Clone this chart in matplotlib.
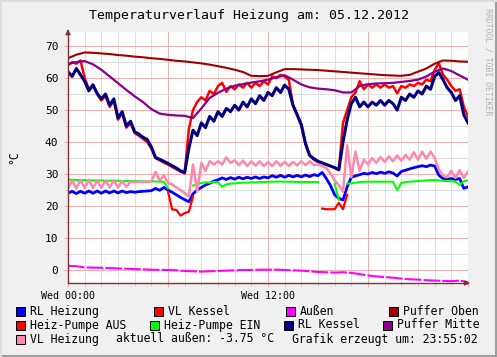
## RRDtool-style heating log: temperatures of one day, redrawn with matplotlib
import numpy as np
import matplotlib
matplotlib.use("Agg")
import matplotlib.pyplot as plt
from matplotlib.lines import Line2D
from matplotlib.patches import Rectangle

plt.rcParams['font.family'] = ['DejaVu Sans Mono']

# time axes (hours since Wed 00:00)
hours_q = np.arange(97) * 0.25   # quarter-hour samples
hours_h = np.arange(49) * 0.5    # half-hour samples

# values (degrees C), one row = one hour
rl_heizung = [
    24.0, 24.6, 23.9, 24.6,  24.0, 24.7, 24.0, 24.7,  24.0, 24.7, 24.1, 24.7,
    24.1, 24.7, 24.2, 24.5,  24.3, 24.5, 24.6, 24.7,  24.8, 25.5, 24.9, 25.8,
    25.0, 24.3, 23.5, 22.7,  22.0, 21.3, 23.8, 25.0,  25.8, 26.6, 27.1, 27.8,
    28.2, 28.8, 28.3, 28.9,  28.4, 29.0, 28.5, 29.0,  28.6, 29.1, 28.6, 29.1,
    28.8, 29.5, 29.0, 29.6,  29.0, 29.6, 29.1, 29.6,  29.1, 29.7, 29.2, 29.8,
    29.5, 30.5, 28.6, 26.4,  23.5, 22.4, 21.9, 26.0,  29.0, 29.4, 29.8, 30.2,
    30.0, 30.5, 30.1, 30.6,  30.2, 30.7, 30.3, 29.4,  30.8, 31.2, 31.6, 32.0,
    32.3, 32.6, 32.3, 32.8,  32.5, 29.6, 28.6, 28.4,  28.6, 28.3, 28.6, 25.5,
    26.0]

vl_kessel = [
    64.0, 65.0, 64.5, 65.5,  60.0, 56.5, 58.0, 55.0,  53.0, 54.5, 51.0, 53.0,
    47.0, 49.0, 44.5, 46.0,  42.8, 42.0, 41.0, 40.0,  38.0, 35.0, 34.3, 33.6,
    33.0, 32.2, 31.5, 30.8,  30.2, 44.0, 50.0, 52.5,  54.0, 53.0, 56.0, 55.0,
    57.5, 58.5, 55.7, 57.5,  56.5, 58.0, 57.0, 58.5,  57.0, 58.5, 57.5, 59.0,
    58.0, 60.5, 60.0, 61.0,  60.5, 59.4, 51.5, 48.5,  45.0, 39.5, 35.8, 34.5,
    33.8, 33.3, 32.9, 32.5,  32.0, 31.3, 46.0, 50.0,  54.0, 55.5, 59.0, 56.5,
    58.0, 57.0, 58.0, 57.0,  58.0, 57.0, 57.5, 55.2,  57.5, 57.0, 58.0, 57.5,
    58.5, 58.0, 59.5, 59.0,  62.5, 64.7, 61.0, 59.5,  57.5, 56.0, 56.5, 51.0,
    47.9]

aussen = [
    1.3, 1.2, 0.8, 0.75, 0.7, 0.6, 0.5, 0.4, 0.3, 0.2, 0.1, 0.05,
    0.0, -0.1, -0.3, -0.4, -0.5, -0.4, -0.3, -0.2, -0.1, 0.0, 0.0, 0.1,
    0.1, 0.1, 0.0, -0.1, -0.2, -0.4, -0.6, -0.7, -0.8, -0.7, -0.9, -1.3,
    -1.7, -2.0, -2.2, -2.4, -2.7, -2.9, -3.0, -3.2, -3.3, -3.4, -3.5, -3.3,
    -3.8]

puffer_oben = [
    66.2, 67.3, 68.0, 67.9, 67.7, 67.5, 67.2, 67.0, 66.7, 66.5, 66.2, 66.0,
    65.7, 65.4, 65.2, 64.9, 64.6, 64.2, 63.7, 63.2, 62.6, 61.9, 60.7, 60.6,
    60.7, 61.8, 62.8, 62.8, 62.7, 62.6, 62.5, 62.3, 62.1, 61.9, 61.7, 61.5,
    61.3, 61.1, 60.9, 60.8, 60.7, 61.0, 62.0, 63.0, 64.5, 65.5, 65.4, 65.2,
    65.1]

nan = np.nan
pumpe_aus = [
    nan, nan, nan, nan,  nan, nan, nan, nan,  nan, nan, nan, nan,
    nan, nan, nan, nan,  nan, nan, nan, nan,  nan, nan, nan, nan,
    24.5, 18.9, 18.8, 17.0,  17.8, 18.2, 23.0, nan,  nan, nan, nan, nan,
    nan, nan, nan, nan,  nan, nan, nan, nan,  nan, nan, nan, nan,
    nan, nan, nan, nan,  nan, nan, nan, nan,  nan, nan, nan, nan,
    nan, 19.2, 19.0, 19.0,  19.0, 21.0, 19.0, 23.5,  nan, nan, nan, nan,
    nan, nan, nan, nan,  nan, nan, nan, nan,  nan, nan, nan, nan,
    nan, nan, nan, nan,  nan, nan, nan, nan,  nan, nan, nan, nan,
    nan]

pumpe_ein = [
    28.2, 28.2, 28.1, 28.1,  28.1, 28.0, 28.0, 28.0,  28.0, 27.9, 27.9, 27.9,
    27.9, 27.8, 27.8, 27.8,  27.8, 27.8, 27.7, 27.7,  27.7, 27.7, 27.6, 27.6,
    25.5, nan, nan, nan,  nan, nan, 26.4, 26.8,  27.2, 27.4, 27.3, 27.5,
    27.5, 26.0, 26.8, 27.0,  27.1, 27.2, 27.3, 27.3,  27.4, 27.4, 27.5, 27.5,
    27.6, 27.6, 27.6, 27.7,  27.6, 27.6, 27.6, 27.5,  27.5, 27.5, 27.5, 27.5,
    27.5, nan, nan, nan,  27.0, 22.0, nan, 27.0,  27.1, 27.3, 27.5, 27.6,
    27.6, 27.6, 27.6, 27.6,  27.6, 27.6, 27.6, 25.0,  27.2, 27.5, 27.6, 27.7,
    27.8, 27.9, 28.0, 28.1,  28.1, 28.0, 27.9, 27.8,  27.7, 27.6, 26.6, 27.8,
    28.0]

rl_kessel = [
    62.0, 60.5, 63.0, 61.0,  59.0, 56.0, 57.8, 55.2,  53.5, 55.0, 51.5, 53.5,
    47.5, 49.5, 45.0, 46.5,  43.2, 42.5, 41.5, 40.8,  38.5, 35.2, 34.6, 34.0,
    33.3, 32.6, 31.9, 31.0,  30.5, 38.0, 43.7, 42.0,  46.0, 44.5, 48.0, 46.5,
    49.5, 48.0, 50.5, 49.5,  51.5, 50.0, 52.5, 51.0,  53.5, 52.0, 54.5, 53.0,
    55.5, 54.5, 57.0, 55.5,  57.8, 56.5, 51.5, 48.5,  45.5, 39.5, 35.8, 34.8,
    34.0, 33.5, 33.0, 32.5,  32.0, 31.3, 40.0, 47.0,  52.0, 54.0, 51.0, 52.5,
    51.0, 52.5, 51.5, 53.0,  51.5, 53.0, 52.0, 50.0,  54.0, 53.0, 55.0, 54.0,
    56.0, 55.0, 57.5, 56.5,  60.5, 61.7, 59.5, 57.0,  55.5, 53.0, 54.5, 48.5,
    46.0]

puffer_mitte = [
    64.4, 65.0, 65.3, 64.3, 62.6, 60.5, 58.4, 56.3, 54.3, 52.5, 50.3, 48.9,
    48.5, 48.3, 48.2, 47.5, 50.5, 53.8, 55.4, 56.7, 57.6, 58.1, 58.6, 59.0,
    59.5, 60.2, 60.9, 59.5, 58.0, 57.1, 56.7, 56.5, 56.2, 55.5, 55.5, 57.5,
    58.1, 58.3, 58.4, 58.5, 58.8, 59.1, 59.5, 60.5, 62.0, 63.0, 62.2, 60.8,
    59.5]

vl_heizung = [
    25.5, 28.0, 25.5, 28.2,  25.6, 28.2, 25.6, 28.0,  25.7, 28.0, 25.8, 28.0,
    25.8, 27.8, 26.0, 27.6,  27.5, 27.6, 27.5, 27.6,  27.6, 30.7, 28.0, 29.5,
    27.2, 26.8, 25.8, 25.0,  24.0, 23.0, 33.0, 24.5,  33.5, 31.0, 34.0, 33.0,
    34.0, 33.0, 35.2, 33.5,  34.3, 32.8, 34.2, 32.5,  34.0, 32.6, 34.0, 32.5,
    33.8, 32.5, 34.0, 32.6,  33.8, 32.5, 33.8, 32.7,  34.0, 32.8, 34.0, 32.8,
    33.0, 32.5, 31.8, 30.2,  28.0, 26.5, 24.5, 39.0,  29.0, 37.0, 31.0, 34.5,
    33.0, 35.0, 33.5, 35.3,  33.8, 35.5, 34.0, 35.8,  34.2, 36.0, 34.5, 36.8,
    34.5, 37.0, 34.8, 37.0,  35.0, 31.5, 29.5, 29.0,  31.0, 28.8, 31.2, 28.8,
    30.8]

# colours in legend order
c_rl_heiz = '#0000ff'
c_vl_kessel = '#ff0000'
c_aussen = '#ff00ff'
c_p_oben = '#a00000'
c_aus = '#ff0000'
c_ein = '#00ff00'
c_rl_kessel = '#000080'
c_p_mitte = '#880088'
c_vl_heiz = '#ff88aa'

W, H = 497, 357
fig = plt.figure(figsize=(W / 100, H / 100), dpi=100)
fig.patch.set_facecolor('#f0f0f0')

def fx(px):
    return px / W

def fy(py):
    return 1 - py / H

ax = fig.add_axes([fx(68), fy(283), fx(400), 251 / H])
ax.set_facecolor('white')
ax.set_xlim(0, 24)
ax.set_ylim(-4.06, 74.4)

# grid: grey every hour / 5 deg, red every 6 hours / 10 deg
grid_red = '#f7b0b0'
grid_grey = '#dedede'
for h in range(1, 24):
    col = grid_red if h % 6 == 0 else grid_grey
    ax.axvline(h, color=col, lw=0.72, zorder=0)
for v in range(0, 75, 5):
    col = grid_red if v % 10 == 0 else grid_grey
    ax.axhline(v, color=col, lw=0.72, zorder=0)

# series, drawn in legend order
ax.plot(hours_q, rl_heizung, color=c_rl_heiz, lw=2.0)
ax.plot(hours_q, vl_kessel, color=c_vl_kessel, lw=1.8)
ax.plot(hours_h, aussen, color=c_aussen, lw=1.5, dashes=(8, 1.0))
ax.plot(hours_h, puffer_oben, color=c_p_oben, lw=1.5)
ax.plot(hours_q, pumpe_aus, color=c_aus, lw=1.6)
ax.plot(hours_q, pumpe_ein, color=c_ein, lw=1.5)
ax.plot(hours_q, rl_kessel, color=c_rl_kessel, lw=2.2)
ax.plot(hours_h, puffer_mitte, color=c_p_mitte, lw=1.6)
ax.plot(hours_q, vl_heizung, color=c_vl_heiz, lw=1.8)

# axes and ticks
axis_col = '#803030'
for s in ['top', 'right']:
    ax.spines[s].set_visible(False)
for s in ['left', 'bottom']:
    ax.spines[s].set_color(axis_col)
    ax.spines[s].set_linewidth(1.0)

ax.set_xticks([0, 6, 12, 18, 24])
ax.set_xticklabels(['Wed 00:00', '', 'Wed 12:00', '', ''])
ax.set_xticks(range(25), minor=True)
ax.set_yticks(range(0, 71, 10))
ax.set_yticks(range(5, 75, 10), minor=True)
ax.tick_params(axis='x', which='major', length=3, color=grid_red, pad=3, labelsize=7.2)
ax.tick_params(axis='x', which='minor', length=2, color='#c8c8c8')
ax.tick_params(axis='y', which='major', length=3, color=grid_red, pad=4, labelsize=8)
ax.tick_params(axis='y', which='minor', length=2, color='#c8c8c8')

ax.annotate('', xy=(1.012, 0), xytext=(0.99, 0), xycoords='axes fraction',
            arrowprops=dict(arrowstyle='-|>', color=axis_col, lw=1, mutation_scale=7),
            annotation_clip=False)
ax.annotate('', xy=(0, 1.022), xytext=(0, 0.99), xycoords='axes fraction',
            arrowprops=dict(arrowstyle='-|>', color=axis_col, lw=1, mutation_scale=7),
            annotation_clip=False)

# texts
fig.text(fx(249), fy(16), 'Temperaturverlauf Heizung am: 05.12.2012',
         ha='center', va='center', fontsize=9.5)
fig.text(fx(14), fy(157), '°C', rotation=90, ha='center', va='center', fontsize=8.3)
fig.text(fx(488), fy(62), 'RRDTOOL / TOBI OETIKER', rotation=270,
         ha='center', va='center', fontsize=5.9, color='#b4b4b4')

# legend (RRDtool style boxes)
legend_rows = [
    [(16, 'RL Heizung', c_rl_heiz), (154, 'VL Kessel', c_vl_kessel),
     (286, 'Außen', c_aussen), (389, 'Puffer Oben', c_p_oben)],
    [(16, 'Heiz-Pumpe AUS', c_aus), (150, 'Heiz-Pumpe EIN', c_ein),
     (284, 'RL Kessel', c_rl_kessel), (383, 'Puffer Mitte', c_p_mitte)],
    [(16, 'VL Heizung', c_vl_heiz)],
]
row_y = [311.5, 325, 339]
for ry, row in zip(row_y, legend_rows):
    for px, label, col in row:
        fig.add_artist(Rectangle((fx(px), fy(ry + 4.5)), 9 / W, 9 / H,
                                 facecolor=col, edgecolor='black', lw=0.7,
                                 transform=fig.transFigure))
        fig.text(fx(px + 14), fy(ry), label, va='center', ha='left', fontsize=8.3)
fig.text(fx(116), fy(339), 'aktuell außen: -3.75 °C', va='center', ha='left', fontsize=8.3)
fig.text(fx(292), fy(339), 'Grafik erzeugt um: 23:55:02', va='center', ha='left', fontsize=8.3)

# 3d-ish frame
fig.add_artist(Line2D([0, 1], [fy(356), fy(356)], color='#9e9e9e', lw=1.5, transform=fig.transFigure))
fig.add_artist(Line2D([fx(496), fx(496)], [0, 1], color='#9e9e9e', lw=1.5, transform=fig.transFigure))
fig.add_artist(Line2D([0, 1], [fy(0.5), fy(0.5)], color='#dcdcdc', lw=1.5, transform=fig.transFigure))
fig.add_artist(Line2D([fx(0.5), fx(0.5)], [0, 1], color='#dcdcdc', lw=1.5, transform=fig.transFigure))

fig.savefig('out.png', dpi=100, facecolor=fig.get_facecolor())
